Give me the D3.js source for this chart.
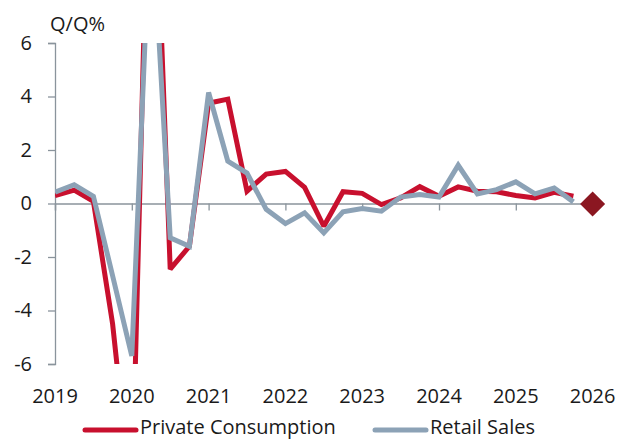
<!DOCTYPE html>
<html>
<head>
<meta charset="utf-8">
<script src="https://cdn.jsdelivr.net/npm/d3@7"></script>
<style>
  html, body { margin: 0; padding: 0; background: #fff; }
  svg { display: block; font-family: "Open Sans", "Noto Sans", sans-serif; }
</style>
</head>
<body>
<svg id="chart" width="627" height="440"></svg>
<script>
const quarters = ["2019Q1","2019Q2","2019Q3","2019Q4","2020Q1","2020Q2","2020Q3","2020Q4",
  "2021Q1","2021Q2","2021Q3","2021Q4","2022Q1","2022Q2","2022Q3","2022Q4",
  "2023Q1","2023Q2","2023Q3","2023Q4","2024Q1","2024Q2","2024Q3","2024Q4",
  "2025Q1","2025Q2","2025Q3","2025Q4"];
const privateConsumption = [0.3, 0.5, 0.08, -4.5, -11.2, 16.7, -2.45, -1.6,
  3.75, 3.9, 0.46, 1.1, 1.2, 0.6, -0.85, 0.44,
  0.38, -0.04, 0.21, 0.63, 0.27, 0.62, 0.46, 0.44,
  0.3, 0.21, 0.42, 0.27];
const retailSales = [0.42, 0.7, 0.27, -2.7, -5.7, 11.4, -1.28, -1.6,
  4.15, 1.58, 1.14, -0.22, -0.75, -0.35, -1.1, -0.31,
  -0.19, -0.29, 0.24, 0.34, 0.24, 1.43, 0.36, 0.52,
  0.81, 0.36, 0.58, 0.06];
const forecastQuarter = ["2026Q1"];
const forecastValue = [-0.02];
const yTicks = [-6, -4, -2, 0, 2, 4, 6];
const xTickYears = [2019, 2020, 2021, 2022, 2023, 2024, 2025, 2026];
const yAxisTitle = "Q/Q%";
const seriesNames = ["Private Consumption", "Retail Sales"];

const colors = { pc: "#c8102e", rs: "#8ca2b6", fc: "#8b1721", axis: "#8a949c", text: "#1a1a1a" };

const svg = d3.select("#chart");
const pL = 55, pR = 592.6, pT = 43, pB = 364;

const qToNum = q => +q.slice(0, 4) + (+q.slice(5) - 1) / 4;

const x = d3.scaleLinear().domain([2019, 2026]).range([pL, pR]);
const y = d3.scaleLinear().domain([-6, 6]).range([pB, pT]);

svg.append("defs").append("clipPath").attr("id", "plotClip")
  .append("rect").attr("x", pL).attr("y", pT).attr("width", 620 - pL).attr("height", pB - pT);

// y axis
const yAxis = d3.axisLeft(y).tickValues(yTicks).tickSize(7).tickPadding(16)
  .tickFormat(d => d);
const gy = svg.append("g").attr("transform", `translate(${pL},0)`).call(yAxis);
gy.select(".domain").attr("stroke", colors.axis).attr("stroke-width", 1.3);
gy.selectAll(".tick line").attr("stroke", colors.axis).attr("stroke-width", 1.3);
gy.selectAll(".tick text").attr("fill", colors.text).attr("font-size", 20)
  .style("font-family", '"Open Sans", sans-serif');

// x axis at zero
const xAxis = d3.axisBottom(x).tickValues(xTickYears).tickSize(7).tickFormat("");
const gx = svg.append("g").attr("transform", `translate(0,${y(0)})`).call(xAxis);
gx.select(".domain").attr("stroke", colors.axis).attr("stroke-width", 1.3);
gx.selectAll(".tick line").attr("stroke", colors.axis).attr("stroke-width", 1.3);

// x labels at bottom
svg.append("g").selectAll("text").data(xTickYears).join("text")
  .attr("x", d => x(d)).attr("y", 403)
  .attr("text-anchor", "middle").attr("font-size", 20).attr("fill", colors.text)
  .text(d => d);

// y title
svg.append("text").attr("x", 50).attr("y", 31).attr("font-size", 20)
  .attr("fill", colors.text).text(yAxisTitle);

const line = d3.line().x(d => x(qToNum(d.q))).y(d => y(d.v));
const plot = svg.append("g").attr("clip-path", "url(#plotClip)");

plot.append("path")
  .datum(quarters.map((q, i) => ({ q, v: privateConsumption[i] })))
  .attr("d", line).attr("fill", "none").attr("stroke", colors.pc)
  .attr("stroke-width", 5).attr("stroke-linejoin", "miter").attr("stroke-miterlimit", 2);

plot.append("path")
  .datum(quarters.map((q, i) => ({ q, v: retailSales[i] })))
  .attr("d", line).attr("fill", "none").attr("stroke", colors.rs)
  .attr("stroke-width", 5).attr("stroke-linejoin", "miter").attr("stroke-miterlimit", 2);

// forecast diamond
svg.append("g").selectAll("path").data(forecastQuarter.map((q, i) => ({ q, v: forecastValue[i] })))
  .join("path")
  .attr("transform", d => `translate(${x(qToNum(d.q))},${y(d.v)})`)
  .attr("d", d3.symbol().type(d3.symbolDiamond2).size(400))
  .attr("fill", colors.fc);

// legend
const legend = svg.append("g");
const legItems = [
  { name: seriesNames[0], color: colors.pc, x0: 85 },
  { name: seriesNames[1], color: colors.rs, x0: 375 }
];
legItems.forEach(it => {
  legend.append("line").attr("x1", it.x0).attr("x2", it.x0 + 51)
    .attr("y1", 430).attr("y2", 430).attr("stroke", it.color).attr("stroke-width", 5)
    .attr("stroke-linecap", "round");
  legend.append("text").attr("x", it.x0 + 55).attr("y", 434).attr("font-size", 20)
    .attr("fill", colors.text).text(it.name);
});
</script>
</body>
</html>
